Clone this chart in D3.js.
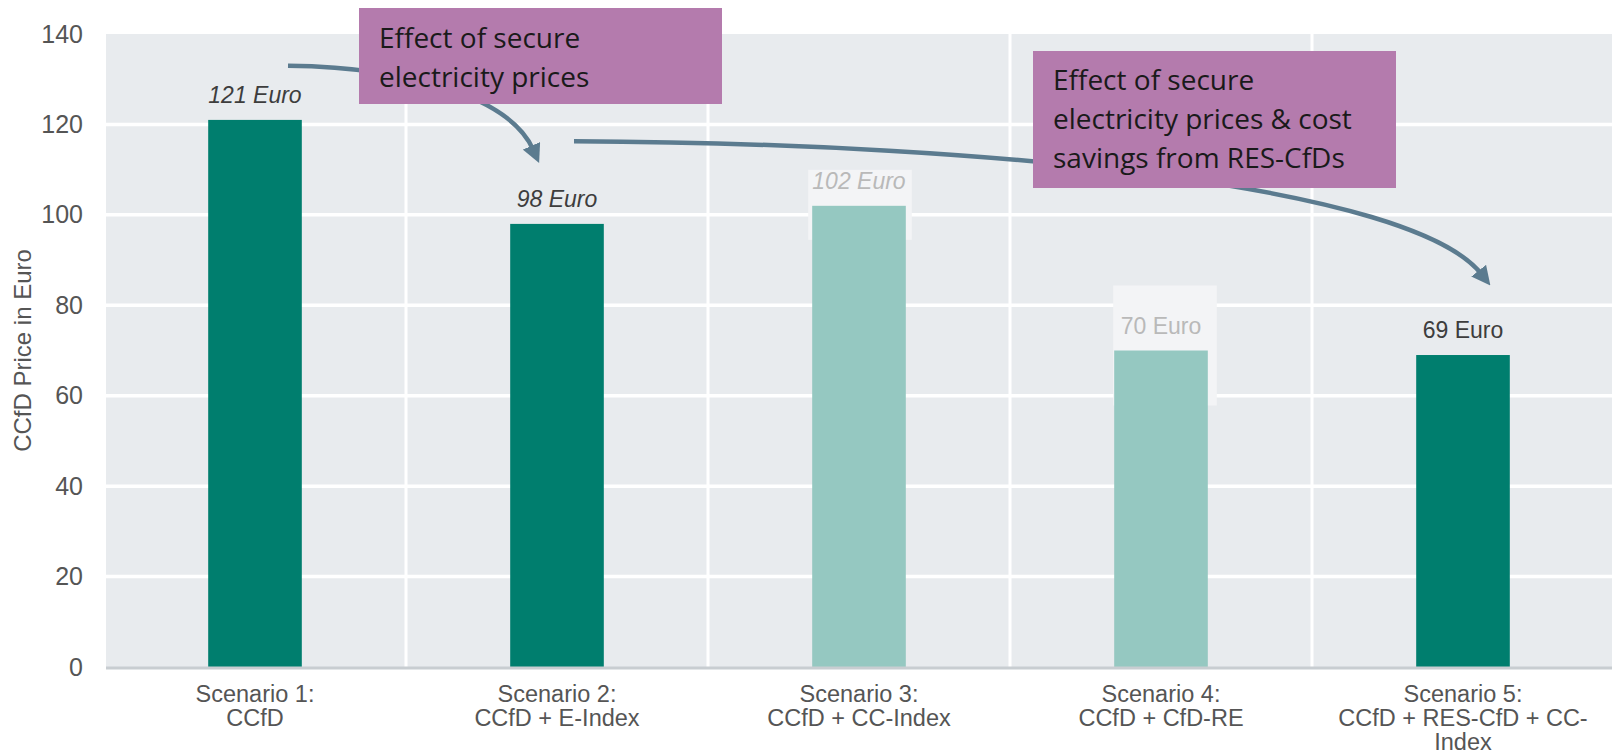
<!DOCTYPE html>
<html>
<head>
<meta charset="utf-8">
<script src="https://cdn.jsdelivr.net/npm/d3@7"></script>
<style>
  body { margin: 0; background: #fff; }
  svg { display: block; }
</style>
</head>
<body>
<div id="chart"></div>
<script>
// Chart data
let categories = [
  ["Scenario 1:", "CCfD"],
  ["Scenario 2:", "CCfD + E-Index"],
  ["Scenario 3:", "CCfD + CC-Index"],
  ["Scenario 4:", "CCfD + CfD-RE"],
  ["Scenario 5:", "CCfD + RES-CfD + CC-", "Index"]
];
let values = [121, 98, 102, 70, 69];
let value_labels = ["121 Euro", "98 Euro", "102 Euro", "70 Euro", "69 Euro"];
let highlighted = [true, true, false, false, true];
let italic_label = [true, true, true, false, false];
let y_ticks = [0, 20, 40, 60, 80, 100, 120, 140];
let y_title = "CCfD Price in Euro";

let note1 = ["Effect of secure", "electricity prices"];
let note2 = ["Effect of secure", "electricity prices & cost", "savings from RES-CfDs"];

// Size
let width = 1616;
let height = 756;
let margin = {top: 34, right: 4, bottom: 89, left: 106};

let dark = "#007e6e";
let light = "#95c8c1";
let arrow_color = "#5b7b8f";
let font = "'Liberation Sans', Arial, sans-serif";

let svg = d3.select("#chart")
            .append("svg")
            .attr("width", width)
            .attr("height", height);

let x = d3.scaleBand()
          .domain(d3.range(values.length))
          .range([104, width - 2])
          .paddingInner(0.69)
          .paddingOuter(0.345);

let y = d3.scaleLinear()
          .domain([0, 140])
          .range([height - margin.bottom, margin.top]);

let step = x.step();
let bw = x.bandwidth();

// plot background
svg.append("rect")
   .attr("x", margin.left)
   .attr("y", y(140))
   .attr("width", width - margin.right - margin.left)
   .attr("height", y(0) - y(140))
   .style("fill", "#e8ebee");

// horizontal grid
svg.append("g")
   .selectAll("line")
   .data(y_ticks.filter(d => d > 0 && d < 140))
   .join("line")
   .attr("x1", margin.left)
   .attr("x2", width - margin.right)
   .attr("y1", d => y(d))
   .attr("y2", d => y(d))
   .style("stroke", "#fff")
   .style("stroke-width", 3.5);

// vertical grid between scenarios
svg.append("g")
   .selectAll("line")
   .data(d3.range(1, values.length))
   .join("line")
   .attr("x1", i => x(i) + bw / 2 - step / 2)
   .attr("x2", i => x(i) + bw / 2 - step / 2)
   .attr("y1", y(140))
   .attr("y2", y(0))
   .style("stroke", "#fff")
   .style("stroke-width", 3);

// light boxes behind the faded labels
svg.append("g")
   .selectAll("rect")
   .data(d3.range(values.length).filter(i => !highlighted[i]))
   .join("rect")
   .attr("x", i => x(i) - (i === 2 ? 4 : 1))
   .attr("y", i => i === 2 ? y(values[i]) - 36 : y(values[i]) - 65)
   .attr("width", bw + 10)
   .attr("height", i => i === 2 ? 70 : 120)
   .style("fill", "#f3f4f6");

// bars
svg.append("g")
   .selectAll("rect")
   .data(values)
   .join("rect")
   .attr("x", (d, i) => x(i))
   .attr("y", d => y(d))
   .attr("width", bw)
   .attr("height", d => y(0) - y(d))
   .style("fill", (d, i) => highlighted[i] ? dark : light);

// baseline
svg.append("line")
   .attr("x1", margin.left)
   .attr("x2", width - margin.right)
   .attr("y1", y(0) + 1)
   .attr("y2", y(0) + 1)
   .style("stroke", "#c8cdd1")
   .style("stroke-width", 3);

// value labels
svg.append("g")
   .selectAll("text")
   .data(values)
   .join("text")
   .attr("x", (d, i) => x(i) + bw / 2)
   .attr("y", d => y(d) - 17)
   .attr("text-anchor", "middle")
   .style("font-family", font)
   .style("font-size", "23px")
   .style("font-style", (d, i) => italic_label[i] ? "italic" : "normal")
   .style("fill", (d, i) => highlighted[i] ? "#3d3d3d" : "#b9b9b9")
   .text((d, i) => value_labels[i]);

// y axis
svg.append("g")
   .attr("transform", "translate(" + margin.left + ",0)")
   .call(d3.axisLeft(y).tickValues(y_ticks).tickSize(0).tickPadding(23))
   .call(g => g.select(".domain").remove())
   .call(g => g.selectAll("text")
               .style("font-family", font)
               .style("font-size", "25px")
               .style("fill", "#555"));

svg.append("text")
   .attr("transform", "translate(31," + ((y(0) + y(140)) / 2) + ") rotate(-90)")
   .attr("text-anchor", "middle")
   .style("font-family", font)
   .style("font-size", "24px")
   .style("fill", "#555")
   .text(y_title);

// x labels
let xl = svg.append("g")
            .selectAll("text")
            .data(categories)
            .join("text")
            .attr("text-anchor", "middle")
            .style("font-family", font)
            .style("font-size", "23.5px")
            .style("fill", "#555");

xl.selectAll("tspan")
  .data((d, i) => d.map(t => ({t: t, i: i})))
  .join("tspan")
  .attr("x", d => x(d.i) + bw / 2)
  .attr("y", (d, j) => y(0) + 35 + j * 24)
  .text(d => d.t);

// arrows
let defs = svg.append("defs");
defs.append("marker")
    .attr("id", "head")
    .attr("viewBox", "0 0 10 10")
    .attr("refX", 2)
    .attr("refY", 5)
    .attr("markerWidth", 4.2)
    .attr("markerHeight", 4.2)
    .attr("markerUnits", "strokeWidth")
    .attr("orient", "auto")
    .append("path")
    .attr("d", "M0,0L10,5L0,10Z")
    .style("fill", arrow_color);

let c1 = x(0) + bw / 2, c2 = x(1) + bw / 2, c5 = x(4) + bw / 2;

let p1 = d3.path();
p1.moveTo(c1 + 33, y(133));
p1.bezierCurveTo(c1 + 165, y(132.7), c2 - 45, y(125), c2 - 24, y(114.5));
svg.append("path")
   .attr("d", p1.toString())
   .attr("marker-end", "url(#head)")
   .style("fill", "none")
   .style("stroke", arrow_color)
   .style("stroke-width", 4.5);

let p2 = d3.path();
p2.moveTo(c2 + 17, y(116.3));
p2.bezierCurveTo(c2 + 450, y(115.8), c5 - 50, y(106), c5 + 18, y(87));
svg.append("path")
   .attr("d", p2.toString())
   .attr("marker-end", "url(#head)")
   .style("fill", "none")
   .style("stroke", arrow_color)
   .style("stroke-width", 4.5);

// annotation boxes
function note(lines, bx, by, bwid, bh, tx, ty) {
  let g = svg.append("g");
  g.append("rect")
   .attr("x", bx).attr("y", by)
   .attr("width", bwid).attr("height", bh)
   .style("fill", "#b47bad");
  g.append("text")
   .style("font-family", "'Open Sans', 'Noto Sans', sans-serif")
   .style("font-size", "28px")
   .style("fill", "#1a1a1a")
   .selectAll("tspan")
   .data(lines)
   .join("tspan")
   .attr("x", tx)
   .attr("y", (d, i) => ty + i * 39)
   .text(d => d);
}

note(note1, 359, 8, 363, 96, 379, 48);
note(note2, 1033, 51, 363, 137, 1053, 90);
</script>
</body>
</html>
